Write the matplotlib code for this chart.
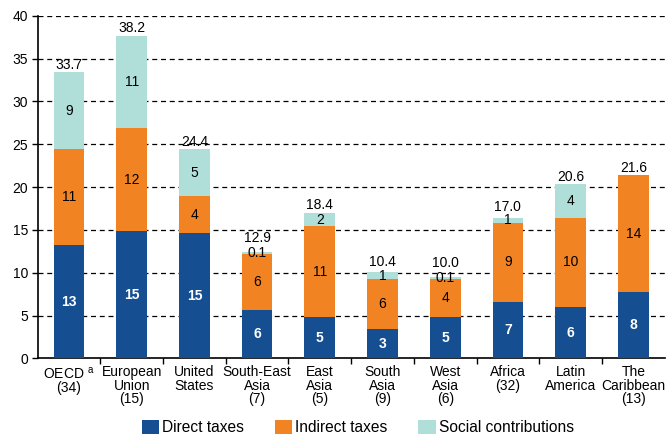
import matplotlib
matplotlib.use('Agg')
import matplotlib.pyplot as plt
import numpy as np

plt.rcParams['font.family'] = ['Liberation Sans', 'DejaVu Sans']
plt.rcParams['mathtext.fontset'] = 'custom'
plt.rcParams['mathtext.rm'] = 'Liberation Sans'

categories = ['OECD $^{\\mathrm{a}}$\n(34)', 'European\nUnion\n(15)', 'United\nStates',
              'South-East\nAsia\n(7)', 'East\nAsia\n(5)', 'South\nAsia\n(9)',
              'West\nAsia\n(6)', 'Africa\n(32)', 'Latin\nAmerica', 'The\nCaribbean\n(13)']
direct = [13.2, 14.9, 14.6, 5.7, 4.8, 3.4, 4.8, 6.6, 6.0, 7.7]
indirect = [11.2, 11.95, 4.3, 6.5, 10.6, 5.85, 4.45, 9.2, 10.4, 13.7]
social = [9.0, 10.8, 5.5, 0.2, 1.6, 0.8, 0.25, 0.6, 3.9, 0.0]
direct_lbl = ['13', '15', '15', '6', '5', '3', '5', '7', '6', '8']
indirect_lbl = ['11', '12', '4', '6', '11', '6', '4', '9', '10', '14']
social_lbl = ['9', '11', '5', '0.1', '2', '1', '0.1', '1', '4', '']
totals = ['33.7', '38.2', '24.4', '12.9', '18.4', '10.4', '10.0', '17.0', '20.6', '21.6']

c_direct = '#164f91'
c_indirect = '#f28322'
c_social = '#b0dfda'

fig = plt.figure(figsize=(6.66, 4.37), dpi=100)
ax = fig.add_axes([0.0566, 0.18, 0.9414, 0.784])

x = np.arange(len(categories))
d = np.array(direct)
i_ = np.array(indirect)
s = np.array(social)
w = 0.49
ax.bar(x, d, w, color=c_direct, zorder=3, label='Direct taxes')
ax.bar(x, i_, w, bottom=d, color=c_indirect, zorder=3, label='Indirect taxes')
ax.bar(x, s, w, bottom=d + i_, color=c_social, zorder=3, label='Social contributions')

for k in range(len(x)):
    ax.text(x[k], d[k] / 2, direct_lbl[k], ha='center', va='center', color='white',
            fontsize=10, fontweight='bold', zorder=4)
    ax.text(x[k], d[k] + i_[k] / 2, indirect_lbl[k], ha='center', va='center',
            color='black', fontsize=10, zorder=4)
    if social_lbl[k]:
        ax.text(x[k], d[k] + i_[k] + s[k] / 2, social_lbl[k], ha='center', va='center',
                color='black', fontsize=10, zorder=4)
    top = d[k] + i_[k] + s[k]
    # push the total up a bit when the social slice is thin (its label sits there)
    extra = 0.0
    if 0 < s[k] < 0.5:
        extra = 0.75
    elif 0 < s[k] < 1:
        extra = 0.35
    ax.text(x[k], top + 0.05 + extra, totals[k], ha='center', va='bottom',
            color='black', fontsize=10, zorder=4)

ax.set_xlim(-0.5, len(x) - 0.5)
ax.set_ylim(0, 40)
ax.set_yticks(np.arange(0, 41, 5))
for yv in range(5, 41, 5):
    ax.axhline(yv, color='black', lw=0.9, ls=(0, (4, 3)), zorder=1)

ax.set_xticks(x)
ax.set_xticklabels(categories, fontsize=10, linespacing=0.95)
ax.set_xticks(np.arange(0.5, len(x) - 1, 1), minor=True)
ax.tick_params(axis='x', which='major', length=0, pad=5)
ax.tick_params(axis='x', which='minor', length=4, width=1, direction='out')
ax.tick_params(axis='y', length=4, width=1, direction='out', labelsize=10, pad=3)

for sp in ['top', 'right']:
    ax.spines[sp].set_visible(False)
ax.spines['left'].set_linewidth(1.2)
ax.spines['bottom'].set_linewidth(1.2)

fig.legend(loc='center', bbox_to_anchor=(0.537, 0.022), ncol=3, frameon=False,
           fontsize=11.2, handlelength=1.1, handleheight=1.0, handletextpad=0.2,
           columnspacing=2.0)

fig.savefig('out.png', dpi=100)
